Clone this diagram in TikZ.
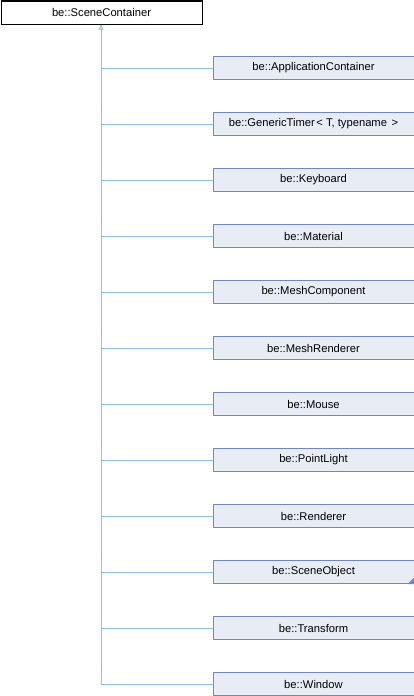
\documentclass[tikz,border=0pt]{standalone}
\usepackage{fontspec}
\setmainfont{Liberation Sans}
\usetikzlibrary{arrows.meta}
\definecolor{boxfill}{RGB}{232,236,245}
\definecolor{boxline}{RGB}{112,134,198}
\definecolor{edgecol}{RGB}{140,196,228}
\begin{document}
\begin{tikzpicture}[x=1pt,y=-1pt,
  base/.style={draw=black,fill=white,line width=1pt,minimum width=201pt,minimum height=23pt,
    inner sep=0pt,anchor=north west,font=\fontsize{11.2}{13}\selectfont},
  cls/.style={draw=boxline,fill=boxfill,line width=1pt,minimum width=201pt,minimum height=23pt,
    inner sep=0pt,anchor=north west,font=\fontsize{11.2}{13}\selectfont},
  edge/.style={draw=edgecol,line width=1pt}]
\useasboundingbox (0,0) rectangle (414,696);
\node[base] (root) at (0.5,0.5) {be::SceneContainer};
\foreach \name [count=\i from 0] in {
  be::ApplicationContainer,
  {be::GenericTimer\hspace{1.5pt}< T, typename \hspace{1.5pt}>},
  be::Keyboard,
  be::Material,
  be::MeshComponent,
  be::MeshRenderer,
  be::Mouse,
  be::PointLight,
  be::Renderer,
  be::SceneObject,
  be::Transform,
  be::Window}{
  \pgfmathsetmacro\yy{56+56*\i}
  \node[cls] (c\i) at (212.5,\yy) {\name};
}
% inherited-by marker on the class that has further subclasses
\fill[boxline] (c9.south east) -- ++(0,-7) -- ++(-7,7) -- cycle;
% shared trunk with open arrow into the base class
\coordinate (trunk) at (101,684);
\draw[edge,-{Triangle[open,length=5pt,width=5pt]}] (trunk) -- (root.south -| trunk);
\foreach \i in {0,...,11}{
  \draw[edge] (c\i.west) -- (c\i.west -| trunk);
}
\end{tikzpicture}
\end{document}
